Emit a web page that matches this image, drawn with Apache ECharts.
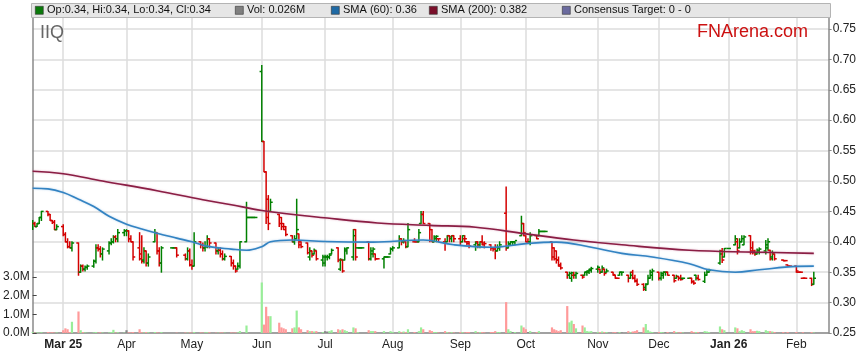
<!DOCTYPE html>
<html><head><meta charset="utf-8">
<script src="https://cdn.jsdelivr.net/npm/echarts@6/dist/echarts.min.js"></script>
<style>html,body{margin:0;padding:0;background:#fff}#c{width:859px;height:363px}</style>
</head><body><div id="c"></div>
<script>
// Monthly bars: [open, high, low, close, volume (M)]
const feb25 = [[.425,.435,.42,.43,.05],[.43,.432,.425,.425,.02],[.425,.43,.425,.43,.03],[.43,.44,.43,.44,.02],[.44,.45,.435,.45,.04],[.45,.45,.443,.445,.05],[.445,.445,.435,.435,.03],[.435,.435,.43,.432,.04],[.432,.435,.42,.42,.02],[.42,.428,.42,.425,.03]];
const mar25 = [[.425,.428,.41,.412,.15],[.412,.415,.40,.40,.25],[.40,.405,.39,.392,.2],[.392,.40,.39,.39,.05],[.39,.40,.385,.398,.6],[.398,.398,.345,.35,1.15],[.35,.362,.35,.36,.15],[.36,.362,.352,.355,.05],[.355,.36,.352,.358,.03],[.358,.362,.355,.36,.01],[.36,.37,.358,.368,.03],[.368,.395,.365,.39,.05],[.39,.395,.385,.388,.02],[.388,.392,.375,.38,.04],[.38,.39,.37,.388,.03],[.385,.40,.38,.398,.03],[.398,.405,.395,.40,.05],[.40,.41,.398,.408,.17],[.408,.41,.40,.405,.03],[.405,.42,.40,.415,.04],[.415,.42,.41,.418,.02]];
const apr25 = [[.418,.42,.41,.418,.15],[.418,.418,.40,.405,.04],[.405,.41,.40,.40,.03],[.40,.40,.37,.375,.05],[.39,.415,.37,.372,.2],[.38,.41,.365,.368,.04],[.37,.39,.365,.385,.03],[.385,.385,.36,.365,.05],[.365,.38,.36,.375,.04],[.40,.42,.40,.415,.05],[.415,.415,.38,.385,.03],[.385,.39,.36,.365,.02],[.365,.392,.35,.39,.05],[.39,.39,.39,.39,0],[.39,.39,.39,.39,0],[.39,.39,.375,.378,.02],[.378,.38,.37,.372,.03],[.372,.39,.37,.385,.02],[.385,.388,.36,.362,.03]];
const may25 = [[.362,.37,.355,.36,.02],[.36,.415,.36,.40,.05],[.40,.40,.39,.395,.03],[.395,.398,.385,.39,.02],[.39,.40,.385,.392,.03],[.392,.41,.39,.405,.04],[.405,.405,.39,.398,.04],[.398,.398,.38,.385,.02],[.385,.39,.38,.386,.02],[.386,.39,.375,.38,.03],[.38,.385,.37,.372,.03],[.372,.38,.37,.376,.02],[.376,.376,.36,.365,.03],[.365,.37,.355,.36,.02],[.36,.36,.35,.352,.03],[.355,.365,.355,.36,.03],[.36,.40,.357,.40,.1],[.40,.465,.40,.44,.4],[.44,.44,.44,.44,0],[.44,.44,.44,.44,0],[.44,.44,.44,.44,0],[.44,.44,.44,.44,0]];
const jun25 = [[.68,.69,.565,.565,2.7],[.565,.565,.515,.515,.45],[.515,.515,.43,.44,1.4],[.47,.476,.42,.43,.9],[.45,.47,.45,.465,.9],[.445,.445,.425,.43,.55],[.44,.44,.42,.425,.3],[.43,.43,.42,.42,.25],[.425,.425,.41,.412,.2],[.41,.41,.40,.40,.25],[.40,.41,.396,.405,.3],[.405,.47,.405,.42,1.2],[.413,.413,.39,.395,.3],[.40,.40,.39,.392,.2],[.398,.398,.38,.382,.15],[.375,.39,.37,.385,.1],[.385,.385,.375,.378,.1],[.38,.388,.38,.386,.08],[.385,.385,.37,.372,.1],[.37,.378,.36,.375,.05]];
const jul25 = [[.365,.378,.36,.375,.1],[.375,.378,.37,.375,.08],[.375,.38,.372,.378,.1],[.38,.388,.38,.386,.15],[.39,.39,.367,.37,.2],[.355,.372,.353,.371,.15],[.37,.37,.35,.352,.2],[.37,.39,.37,.388,.15],[.385,.39,.38,.39,.1],[.375,.42,.37,.41,.3],[.42,.42,.37,.375,.25],[.39,.39,.39,.39,.05],[.39,.39,.39,.39,0],[.39,.39,.39,.39,0],[.40,.40,.37,.372,.15],[.372,.39,.37,.385,.1],[.38,.39,.375,.388,.1],[.38,.38,.37,.372,.1],[.372,.372,.372,.372,0],[.372,.375,.357,.375,.1],[.375,.375,.375,.375,0],[.375,.375,.375,.375,0],[.38,.39,.38,.388,.1]];
const aug25 = [[.388,.392,.385,.39,.05],[.39,.41,.39,.405,.1],[.405,.405,.395,.40,.05],[.40,.405,.398,.402,.08],[.40,.40,.39,.392,.05],[.392,.43,.392,.42,.2],[.40,.405,.40,.40,.05],[.40,.40,.40,.40,0],[.40,.42,.40,.415,.1],[.43,.45,.43,.445,.3],[.445,.45,.43,.43,.2],[.43,.43,.40,.402,.15],[.42,.42,.40,.40,.1],[.40,.41,.40,.408,.05],[.405,.41,.40,.409,.05],[.405,.405,.40,.405,.03],[.40,.405,.386,.40,.1],[.40,.41,.40,.41,.05],[.41,.41,.40,.408,.03],[.405,.41,.40,.41,.05],[.41,.41,.40,.405,.03]];
const sep25 = [[.405,.41,.395,.40,.05],[.40,.41,.40,.41,.05],[.405,.41,.40,.405,.03],[.40,.40,.395,.397,.05],[.40,.40,.39,.393,.05],[.395,.40,.386,.398,.1],[.40,.40,.39,.395,.03],[.395,.40,.39,.40,.05],[.40,.41,.395,.398,.05],[.395,.40,.39,.397,.03],[.395,.395,.386,.39,.05],[.39,.39,.385,.388,.05],[.39,.395,.372,.385,.1],[.385,.395,.385,.39,.05],[.39,.40,.386,.395,.05],[.447,.49,.386,.39,1.65],[.39,.40,.39,.397,.2],[.395,.40,.395,.40,.1],[.40,.40,.395,.40,.05],[.40,.40,.395,.402,.05],[.41,.442,.41,.43,.4],[.43,.43,.41,.415,.3]];
const oct25 = [[.41,.41,.40,.40,.2],[.40,.405,.40,.40,.05],[.40,.415,.395,.41,.1],[.41,.41,.405,.405,.05],[.41,.42,.41,.417,.1],[.417,.417,.417,.417,0],[.417,.417,.417,.417,0],[.417,.417,.417,.417,0],[.40,.40,.37,.375,.3],[.39,.39,.37,.372,.2],[.385,.385,.365,.37,.15],[.37,.375,.36,.362,.1],[.36,.365,.355,.357,.15],[.35,.35,.34,.345,1.44],[.345,.35,.34,.348,.57],[.34,.35,.335,.349,.66],[.345,.35,.34,.345,.48],[.345,.35,.34,.348,.25],[.345,.345,.34,.342,.4],[.345,.35,.345,.35,.3],[.35,.352,.345,.352,.1],[.35,.355,.348,.353,.08],[.355,.358,.35,.356,.1]];
const nov25 = [[.355,.36,.35,.358,.05],[.355,.355,.348,.35,.05],[.35,.36,.35,.357,.08],[.355,.355,.345,.348,.05],[.35,.355,.35,.352,.05],[.35,.35,.345,.346,.03],[.345,.345,.34,.34,.05],[.34,.34,.34,.34,0],[.345,.35,.345,.35,.05],[.35,.35,.345,.35,.03],[.345,.345,.334,.34,.1],[.34,.35,.34,.345,.05],[.35,.353,.339,.34,.08],[.34,.345,.334,.336,.1],[.335,.339,.328,.33,.15],[.33,.331,.32,.322,.3],[.325,.331,.32,.33,.48],[.33,.345,.33,.34,.15],[.34,.353,.34,.35,.08],[.345,.355,.337,.352,.05]];
const dec25 = [[.35,.35,.337,.34,.05],[.34,.35,.337,.348,.05],[.345,.35,.34,.35,.03],[.35,.35,.345,.35,.04],[.35,.35,.345,.345,.05],[.345,.345,.334,.336,.1],[.34,.345,.34,.343,.05],[.343,.343,.337,.34,.03],[.34,.345,.337,.338,.05],[.34,.34,.339,.34,.03],[.34,.34,.34,.34,0],[.34,.34,.332,.334,.1],[.335,.336,.33,.332,.05],[.345,.345,.337,.34,.05],[.34,.345,.337,.338,.05],[.335,.35,.333,.345,.1],[.345,.353,.345,.35,.08],[.35,.355,.35,.353,.05],[.365,.386,.363,.38,.35],[.385,.389,.366,.37,.2],[.375,.389,.375,.389,.15]];
const jan26 = [[.389,.389,.389,.389,0],[.395,.41,.395,.405,.3],[.40,.405,.38,.385,.25],[.39,.405,.39,.40,.1],[.40,.41,.40,.405,.15],[.395,.41,.395,.408,.1],[.41,.41,.38,.385,.2],[.39,.40,.38,.382,.1],[.385,.386,.378,.38,.1],[.38,.388,.38,.386,.12],[.385,.39,.38,.388,.1],[.385,.402,.38,.395,.15],[.39,.405,.386,.40,.1],[.386,.386,.37,.372,.1],[.375,.385,.37,.38,.08],[.38,.38,.37,.372,.05],[.37,.37,.369,.369,.05],[.369,.369,.369,.369,0],[.362,.362,.36,.36,.05],[.36,.36,.36,.36,0]];
const feb26 = [[.36,.36,.35,.352,.05],[.35,.35,.35,.35,0],[.35,.35,.35,.35,0],[.34,.34,.34,.34,.04],[.34,.34,.34,.34,0],[.34,.34,.328,.33,.05],[.33,.35,.33,.34,.026]];

// Months: [year, month, firstDay, lastDay, rows]
const months = [[2025,2,17,28,feb25],[2025,3,1,31,mar25],[2025,4,1,30,apr25],[2025,5,1,31,may25],[2025,6,1,30,jun25],[2025,7,1,31,jul25],[2025,8,1,31,aug25],[2025,9,1,30,sep25],[2025,10,1,31,oct25],[2025,11,1,30,nov25],[2025,12,1,31,dec25],[2026,1,1,31,jan26],[2026,2,1,10,feb26]];
const holidays = ['2025-04-18','2025-04-21','2025-04-25','2025-06-09','2025-12-25','2025-12-26','2026-01-01','2026-01-26'];

// Simple moving averages: [date, value]
const sma60 = [['2025-02-17',.488],['2025-02-24',.487],['2025-03-03',.481],['2025-03-10',.470],['2025-03-17',.458],['2025-03-24',.442],['2025-04-01',.429],['2025-04-08',.421],['2025-04-15',.414],['2025-04-24',.406],['2025-05-01',.400],['2025-05-09',.392],['2025-05-19',.388],['2025-05-26',.386],['2025-06-02',.392],['2025-06-06',.400],['2025-06-16',.403],['2025-07-01',.4005],['2025-07-23',.3995],['2025-08-15',.403],['2025-08-29',.395],['2025-09-15',.391],['2025-10-01',.397],['2025-10-15',.3995],['2025-10-31',.391],['2025-11-14',.381],['2025-11-28',.375],['2025-12-15',.364],['2025-12-24',.354],['2026-01-05',.350],['2026-01-16',.354],['2026-02-02',.3595],['2026-02-10',.360]];
const sma200 = [['2025-02-17',.516],['2025-03-03',.512],['2025-03-21',.500],['2025-04-15',.484],['2025-05-06',.469],['2025-05-19',.461],['2025-06-02',.4515],['2025-07-02',.439],['2025-07-25',.431],['2025-08-18',.427],['2025-09-08',.424],['2025-10-01',.413],['2025-10-23',.403],['2025-11-14',.395],['2025-12-15',.386],['2026-01-14',.383],['2026-02-10',.381]];

const priceTicks = [0.25,0.30,0.35,0.40,0.45,0.50,0.55,0.60,0.65,0.70,0.75];
const volTicks = [0,1,2,3];
const monthTicks = [['2025-03-03','Mar 25',true],['2025-04-01','Apr',false],['2025-05-01','May',false],['2025-06-02','Jun',false],['2025-07-01','Jul',false],['2025-08-01','Aug',false],['2025-09-01','Sep',false],['2025-10-01','Oct',false],['2025-11-03','Nov',false],['2025-12-01','Dec',false],['2026-01-02','Jan 26',true],['2026-02-02','Feb',false]];

function ts(s){const p=s.split('-').map(Number);return Date.UTC(p[0],p[1]-1,p[2]);}
const DAY = 86400000;
const hol = new Set(holidays.map(ts));

const bars = [], vols = [];
let prevC = null, prevUp = 1;
months.forEach(([y,m,d0,d1,rows]) => {
  const days = [];
  for (let d=d0; d<=d1; d++){
    const t = Date.UTC(y,m-1,d); const wd = new Date(t).getUTCDay();
    if (wd===0||wd===6||hol.has(t)) continue;
    days.push(t);
  }
  if (days.length !== rows.length) console.warn('count mismatch', y, m, days.length, rows.length);
  rows.forEach((r,i) => {
    const t = days[i]; if (t===undefined) return;
    const [o,h,l,c,v] = r;
    let dir = prevC===null ? 1 : (c>prevC?1:(c<prevC?-1:0));
    const up = dir===0 ? prevUp : (dir>0?1:0);
    prevUp = up;
    bars.push([t,o,h,l,c,up]);
    if (v>0) vols.push({value:[t,v], itemStyle:{color: dir>0?'#99ee99':(dir<0?'#ff9a9a':'#8a8a8a')}});
    prevC = c;
  });
});

const xMin = ts('2025-02-17');
const xMax = xMin + 364.8*DAY;
const labelMap = {}; monthTicks.forEach(m => labelMap[ts(m[0])] = m[2] ? '{b|'+m[1]+'}' : m[1]);
const FONT = 'Liberation Sans, Arial, sans-serif';

function renderOHLC(params, api){
  const t = api.value(0);
  const pO = api.coord([t, api.value(1)]);
  const pH = api.coord([t, api.value(2)]);
  const pL = api.coord([t, api.value(3)]);
  const pC = api.coord([t, api.value(4)]);
  const col = api.value(5) ? '#008000' : '#d40000';
  const x = pH[0], w = 2.2, lw = 1.5;
  return {type:'group', children:[
    {type:'line', shape:{x1:x,y1:pH[1]-0.5,x2:x,y2:pL[1]+0.5}, style:{stroke:col,lineWidth:lw}},
    {type:'line', shape:{x1:x-w,y1:pO[1],x2:x,y2:pO[1]}, style:{stroke:col,lineWidth:lw}},
    {type:'line', shape:{x1:x,y1:pC[1],x2:x+w,y2:pC[1]}, style:{stroke:col,lineWidth:lw}}
  ]};
}

const chart = echarts.init(document.getElementById('c'), null, {renderer:'canvas'});
const legendItems = [
  {sx:35, tx:47, color:'#0a7a0a', text:'Op:0.34, Hi:0.34, Lo:0.34, Cl:0.34'},
  {sx:235, tx:247, color:'#808080', text:'Vol: 0.026M'},
  {sx:331, tx:343, color:'#1f6aa5', text:'SMA (60): 0.36'},
  {sx:429, tx:441, color:'#7a0f2a', text:'SMA (200): 0.382'},
  {sx:562, tx:574, color:'#6a6a9e', text:'Consensus Target: 0 - 0'}
];
const graphics = [
  {type:'rect', left:31, top:3, shape:{width:799, height:14}, style:{fill:'#e6e6e6', stroke:'#b4b4b4', lineWidth:1}, z:10},
];
legendItems.forEach(it => {
  graphics.push({type:'rect', left:it.sx, top:6, shape:{width:8,height:8}, style:{fill:it.color, stroke:'#333', lineWidth:0.6}, z:11});
  graphics.push({type:'text', left:it.tx, top:4.5, style:{text:it.text, fill:'#111', font:'11px '+FONT}, z:11});
});
graphics.push({type:'text', left:40, top:24, style:{text:'IIQ', fill:'#666', font:'18px '+FONT}, z:11});
graphics.push({type:'text', right:51, top:23, style:{text:'FNArena.com', fill:'#cc1111', font:'18px '+FONT}, z:11});

chart.setOption({
  animation:false,
  backgroundColor:'#fff',
  textStyle:{fontFamily:FONT},
  graphic: graphics,
  grid:{left:31, right:29, top:18, bottom:30, show:false},
  xAxis:{
    type:'value', min:xMin, max:xMax,
    axisLine:{show:true, onZero:false, lineStyle:{color:'#8a8a8a', width:1.5}},
    axisTick:{show:false, customValues: monthTicks.map(m=>ts(m[0]))},
    axisLabel:{customValues: monthTicks.map(m=>ts(m[0])), formatter: v => labelMap[v] || '', color:'#222', fontSize:12, margin:6, fontFamily:FONT, rich:{b:{fontWeight:'bold', fontSize:12, color:'#222', fontFamily:FONT}}},
    splitLine:{show:true, lineStyle:{color:'#dcdcdc', width:1.5}}
  },
  yAxis:[
    {type:'value', position:'right', min:0.25, max:0.768, interval:0.05,
     axisLine:{show:true, lineStyle:{color:'#8a8a8a', width:1.5}},
     axisTick:{show:true, length:3, customValues:priceTicks, lineStyle:{color:'#8a8a8a'}},
     axisLabel:{customValues:priceTicks, formatter:v=>v.toFixed(2), color:'#222', fontSize:12, margin:4, fontFamily:FONT},
     splitLine:{show:true, lineStyle:{color:'#dcdcdc', width:1.5}}},
    {type:'value', position:'left', min:0, max:16.84,
     axisLine:{show:true, lineStyle:{color:'#8a8a8a', width:1.5}},
     axisTick:{show:true, inside:true, length:4, customValues:volTicks, lineStyle:{color:'#444'}},
     axisLabel:{customValues:volTicks, formatter:v=>v.toFixed(1)+'M', color:'#222', fontSize:12, margin:3, fontFamily:FONT},
     splitLine:{show:false}}
  ],
  series:[
    {type:'bar', name:'Volume', xAxisIndex:0, yAxisIndex:1, data:vols, barWidth:2.2, z:1, silent:true},
    {type:'custom', name:'OHLC', xAxisIndex:0, yAxisIndex:0, renderItem:renderOHLC, data:bars, encode:{x:0, y:[1,2,3,4]}, z:3, silent:true, clip:true},
    {type:'line', name:'SMA200', yAxisIndex:0, data:sma200.map(p=>[ts(p[0]),p[1]]), smooth:0.4, showSymbol:false, z:4,
     lineStyle:{color:'#8a1e44', width:1.6, shadowColor:'rgba(200,110,150,0.55)', shadowBlur:2}},
    {type:'line', name:'SMA60', yAxisIndex:0, data:sma60.map(p=>[ts(p[0]),p[1]]), smooth:0.4, showSymbol:false, z:4,
     lineStyle:{color:'#3383c2', width:1.6, shadowColor:'rgba(110,170,220,0.55)', shadowBlur:2}}
  ]
});
</script></body></html>
